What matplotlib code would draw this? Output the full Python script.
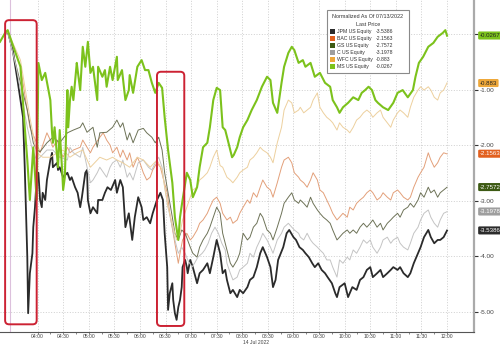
import matplotlib
matplotlib.use("Agg")
import matplotlib.pyplot as plt
from matplotlib.patches import FancyBboxPatch, Rectangle
from matplotlib.transforms import blended_transform_factory, IdentityTransform

plt.rcParams['font.family'] = ['Liberation Sans', 'DejaVu Sans']

# (minutes after 03:00, normalized value)
jpm = [(22, 0.0), (25, 0.05), (31, -0.29), (37, -0.88), (43, -1.50), (45, -2.40), (47, -3.48), (48, -4.02),
       (49, -5.03), (51, -4.31), (54, -3.95), (55, -3.48), (57, -3.12), (59, -2.58), (61, -2.50), (63, -2.99),
       (65, -3.12), (66, -2.86), (69, -2.99), (71, -2.63), (75, -2.27), (77, -2.14), (78, -2.40), (83, -2.32),
       (84, -2.45), (86, -2.40), (90, -2.58), (95, -2.50), (98, -2.63), (100, -2.58), (104, -2.76), (107, -2.86),
       (110, -3.12), (112, -2.94), (116, -2.50), (118, -2.45), (119, -2.99), (122, -3.23), (125, -3.12),
       (130, -3.23), (131, -2.99), (136, -2.99), (139, -2.86), (142, -2.76), (146, -2.81), (151, -2.63),
       (153, -2.86), (157, -2.63), (160, -2.76), (163, -3.48), (167, -3.23), (171, -3.71), (174, -3.30),
       (178, -2.94), (182, -3.12), (184, -3.35), (188, -3.30), (192, -3.41), (195, -3.23), (200, -2.99),
       (204, -2.86), (207, -2.99), (209, -3.59), (212, -4.20), (213, -4.97), (215, -4.67), (218, -4.49),
       (219, -4.79), (221, -5.03), (223, -5.15), (225, -4.92), (227, -4.79), (229, -4.56), (230, -4.20),
       (233, -4.07), (235, -4.20), (236, -4.31), (239, -4.07), (242, -4.20), (247, -4.49), (250, -4.31),
       (254, -4.25), (259, -4.13), (262, -4.31), (266, -4.02), (270, -3.71), (274, -3.95), (277, -4.31),
       (280, -4.25), (282, -4.43), (286, -4.67), (289, -4.61), (294, -4.74), (297, -4.61), (301, -4.67),
       (306, -4.56), (309, -4.43), (313, -4.38), (317, -4.20), (321, -3.95), (324, -3.84), (329, -4.02),
       (333, -4.20), (336, -4.56), (339, -4.43), (342, -4.07), (348, -3.84), (352, -3.59), (355, -3.53),
       (360, -3.66), (363, -3.71), (367, -3.84), (371, -3.89), (374, -3.95), (378, -4.02), (382, -4.13),
       (385, -4.20), (389, -4.13), (393, -4.25), (397, -4.31), (400, -4.38), (405, -4.49), (409, -4.67),
       (411, -4.74), (414, -4.56), (420, -4.49), (424, -4.74), (429, -4.56), (434, -4.61), (438, -4.43),
       (442, -4.38), (446, -4.25), (450, -4.20), (453, -4.38), (458, -4.31), (462, -4.25), (465, -4.38),
       (470, -4.31), (474, -4.25), (477, -4.20), (482, -4.25), (485, -4.20), (489, -4.31), (494, -4.38),
       (497, -4.31), (501, -4.13), (506, -3.95), (509, -3.84), (513, -3.66), (518, -3.53), (521, -3.66),
       (525, -3.77), (529, -3.71), (532, -3.71), (536, -3.66), (540, -3.54)]

bac = [(22, 0.0), (25, 0.05), (40, -0.59), (51, -1.68), (59, -1.96), (63, -2.14), (71, -1.78), (75, -1.91),
       (78, -2.04), (83, -1.91), (86, -2.09), (90, -2.22), (95, -2.04), (98, -2.14), (102, -2.09), (110, -2.04),
       (113, -1.91), (118, -2.04), (122, -2.14), (125, -2.04), (133, -1.86), (137, -1.78), (141, -1.91),
       (145, -2.00), (148, -2.14), (153, -2.04), (157, -2.22), (160, -2.09), (165, -2.27), (168, -2.14),
       (172, -2.40), (177, -2.22), (180, -2.32), (184, -2.50), (188, -2.63), (192, -2.58), (195, -2.45),
       (200, -2.32), (204, -2.40), (207, -2.58), (212, -2.86), (215, -3.23), (219, -3.59), (223, -3.95),
       (225, -4.13), (227, -3.95), (230, -3.71), (235, -3.59), (239, -3.71), (242, -3.66), (247, -3.53),
       (250, -3.41), (254, -3.35), (259, -3.23), (262, -3.12), (266, -2.99), (270, -2.94), (274, -3.05),
       (277, -3.23), (282, -3.35), (286, -3.30), (289, -3.41), (294, -3.35), (297, -3.23), (301, -3.12),
       (306, -2.99), (309, -3.05), (313, -2.86), (317, -2.94), (321, -2.76), (324, -2.63), (329, -2.76),
       (333, -2.81), (336, -2.94), (341, -2.68), (346, -2.40), (349, -2.27), (354, -2.22), (358, -2.32),
       (361, -2.50), (366, -2.58), (368, -2.63), (372, -2.68), (376, -2.76), (380, -2.63), (383, -2.50),
       (388, -2.63), (391, -2.81), (395, -2.86), (399, -2.99), (403, -3.12), (406, -3.23), (411, -3.35),
       (414, -3.30), (418, -3.23), (423, -3.30), (426, -3.12), (430, -3.17), (434, -3.05), (438, -2.99),
       (442, -2.94), (446, -2.86), (450, -2.81), (453, -2.86), (458, -2.99), (462, -2.94), (465, -2.86),
       (470, -2.94), (474, -2.99), (477, -2.86), (482, -2.81), (485, -2.86), (489, -2.94), (494, -2.99),
       (497, -2.94), (501, -2.76), (506, -2.58), (509, -2.50), (513, -2.40), (518, -2.14), (521, -2.27),
       (525, -2.40), (529, -2.32), (532, -2.22), (536, -2.14), (540, -2.16)]

gs = [(22, 0.0), (25, 0.04), (40, -0.88), (48, -1.37), (55, -1.96), (59, -2.09), (63, -2.12), (71, -1.96),
      (78, -1.86), (86, -1.96), (95, -1.78), (102, -1.73), (110, -1.68), (113, -1.60), (118, -1.77),
      (125, -1.68), (130, -2.04), (133, -1.78), (141, -1.77), (148, -1.68), (153, -1.55), (157, -1.68),
      (160, -1.60), (165, -1.91), (168, -1.78), (172, -1.96), (178, -1.73), (184, -1.70), (188, -1.78),
      (194, -1.86), (198, -1.96), (202, -1.86), (206, -2.09), (209, -2.50), (213, -2.86), (218, -3.30),
      (221, -3.59), (225, -3.71), (229, -3.53), (233, -3.59), (239, -3.84), (242, -3.95), (247, -4.02),
      (250, -3.84), (254, -3.71), (259, -3.59), (262, -3.48), (266, -3.30), (270, -3.12), (274, -3.23),
      (277, -3.59), (282, -3.89), (286, -4.13), (289, -4.20), (294, -4.07), (297, -3.95), (301, -3.59),
      (306, -3.71), (309, -3.66), (313, -3.48), (317, -3.41), (321, -3.23), (324, -3.30), (329, -3.53),
      (333, -3.59), (336, -3.71), (341, -3.48), (346, -3.23), (349, -3.05), (354, -2.94), (358, -2.86),
      (361, -2.99), (366, -3.05), (368, -2.99), (372, -3.05), (376, -3.12), (380, -2.94), (383, -3.05),
      (388, -3.17), (391, -3.23), (395, -3.30), (399, -3.35), (403, -3.41), (406, -3.53), (411, -3.71),
      (414, -3.66), (418, -3.59), (423, -3.53), (426, -3.59), (430, -3.53), (434, -3.59), (438, -3.48),
      (442, -3.41), (446, -3.48), (450, -3.41), (453, -3.35), (458, -3.48), (462, -3.41), (465, -3.53),
      (470, -3.41), (474, -3.35), (477, -3.30), (482, -3.23), (485, -3.30), (489, -3.17), (494, -3.12),
      (497, -3.05), (501, -3.12), (506, -2.99), (509, -2.86), (513, -2.94), (518, -2.76), (521, -2.86),
      (525, -2.81), (529, -2.94), (532, -2.86), (536, -2.81), (540, -2.76)]

c = [(22, 0.0), (25, 0.04), (35, -0.59), (48, -1.68), (54, -2.09), (59, -2.27), (63, -2.22), (71, -2.09),
     (78, -2.09), (86, -2.22), (95, -2.27), (98, -2.04), (102, -2.14), (110, -2.22), (113, -2.04),
     (122, -2.68), (125, -2.63), (130, -2.50), (133, -2.40), (141, -2.58), (145, -2.40), (148, -2.32),
     (153, -2.27), (157, -2.40), (160, -2.27), (165, -2.58), (168, -2.50), (172, -2.63), (178, -2.32),
     (184, -2.27), (190, -2.40), (194, -2.45), (198, -2.32), (202, -2.22), (206, -2.40), (209, -2.76),
     (213, -3.12), (218, -3.48), (221, -3.71), (225, -3.95), (229, -3.84), (233, -3.95), (236, -4.07),
     (241, -4.20), (244, -4.13), (248, -4.02), (253, -3.95), (256, -3.89), (260, -3.77), (264, -3.59),
     (268, -3.48), (272, -3.59), (276, -3.77), (280, -3.89), (282, -4.13), (286, -4.31), (289, -4.43),
     (294, -4.38), (297, -4.25), (301, -4.20), (306, -4.13), (309, -3.95), (313, -4.02), (317, -3.84),
     (321, -3.71), (324, -3.59), (329, -3.71), (333, -3.84), (336, -3.95), (341, -3.71), (346, -3.59),
     (349, -3.48), (354, -3.41), (358, -3.48), (361, -3.53), (366, -3.59), (368, -3.66), (372, -3.71),
     (376, -3.59), (380, -3.71), (383, -3.77), (388, -3.84), (391, -3.89), (395, -3.95), (399, -4.07),
     (403, -4.07), (406, -4.20), (411, -4.38), (414, -4.07), (418, -4.13), (423, -4.02), (426, -4.07),
     (430, -3.89), (434, -3.95), (438, -3.84), (442, -3.71), (446, -3.77), (450, -3.71), (453, -3.84),
     (458, -3.95), (462, -3.84), (465, -3.71), (470, -3.66), (474, -3.77), (477, -3.71), (482, -3.66),
     (485, -3.77), (489, -3.84), (494, -3.89), (497, -3.77), (501, -3.59), (506, -3.48), (509, -3.35),
     (513, -3.23), (518, -3.17), (521, -3.30), (525, -3.41), (529, -3.48), (532, -3.35), (536, -3.23),
     (540, -3.20)]

wfc = [(22, 0.0), (25, 0.05), (40, -0.47), (51, -1.50), (59, -2.14), (66, -2.22), (75, -2.22), (83, -2.14),
       (90, -2.09), (98, -2.22), (106, -2.14), (113, -2.09), (122, -2.40), (130, -2.27), (133, -2.22),
       (141, -2.27), (148, -2.22), (153, -2.27), (160, -2.32), (168, -2.40), (177, -2.22), (184, -2.27),
       (192, -2.40), (200, -2.27), (206, -2.45), (209, -2.76), (213, -3.12), (219, -3.48), (223, -3.71),
       (227, -3.59), (230, -3.35), (235, -3.12), (239, -2.94), (242, -2.81), (247, -2.76), (250, -2.63),
       (254, -2.58), (259, -2.50), (262, -2.40), (266, -2.22), (270, -2.09), (274, -2.37), (277, -2.40),
       (282, -2.58), (286, -2.63), (289, -2.68), (294, -2.58), (297, -2.50), (301, -2.45), (306, -2.40),
       (309, -2.27), (313, -2.22), (317, -2.14), (321, -2.04), (324, -2.09), (329, -2.14), (333, -2.22),
       (336, -2.32), (341, -1.96), (346, -1.68), (349, -1.37), (354, -1.19), (358, -1.24), (361, -1.42),
       (366, -1.37), (368, -1.32), (372, -1.42), (376, -1.37), (380, -1.32), (383, -1.19), (388, -1.06),
       (391, -1.32), (395, -1.42), (399, -1.50), (403, -1.55), (406, -1.60), (411, -1.73), (414, -1.60),
       (418, -1.68), (423, -1.73), (426, -1.78), (430, -1.68), (434, -1.55), (438, -1.50), (442, -1.42),
       (446, -1.37), (450, -1.42), (453, -1.50), (458, -1.42), (462, -1.37), (465, -1.50), (470, -1.60),
       (474, -1.68), (477, -1.55), (482, -1.42), (485, -1.37), (489, -1.42), (494, -1.50), (497, -1.32),
       (501, -1.14), (506, -1.01), (509, -0.95), (513, -1.01), (518, -0.95), (521, -1.01), (525, -1.14),
       (529, -1.19), (532, -1.06), (536, -1.01), (540, -0.88)]

ms = [(16, -0.14), (22, 0.02), (25, 0.07), (31, -0.20), (40, -0.59), (45, -1.68), (48, -2.27), (51, -2.99),
      (54, -2.27), (55, -2.04), (57, -2.50), (59, -2.99), (61, -0.52), (65, -0.83), (69, -0.70), (75, -1.19),
      (77, -1.78), (78, -1.96), (80, -1.68), (84, -2.40), (86, -1.73), (89, -2.50), (90, -2.81), (92, -2.58),
      (95, -1.01), (96, -1.68), (98, -1.19), (100, -0.95), (102, -1.19), (106, -0.52), (107, -0.65),
      (110, -1.01), (112, -0.47), (113, -0.23), (116, -0.59), (119, -0.14), (122, -0.70), (125, -0.59),
      (130, -1.19), (131, -0.59), (136, -0.77), (139, -0.65), (141, -0.95), (145, -0.59), (148, -0.83),
      (153, -0.41), (154, -0.83), (159, -0.65), (163, -1.19), (167, -1.01), (168, -0.74), (172, -1.06),
      (177, -0.59), (182, -0.47), (186, -0.65), (190, -0.65), (194, -0.88), (198, -1.06), (202, -0.88),
      (206, -0.97), (209, -1.50), (213, -2.09), (218, -2.68), (221, -3.30), (225, -3.71), (227, -3.30),
      (230, -2.99), (235, -2.50), (239, -2.63), (242, -2.94), (247, -2.76), (250, -2.40), (254, -2.04),
      (259, -1.96), (262, -1.68), (266, -1.19), (270, -0.97), (274, -1.01), (277, -1.68), (280, -1.73),
      (283, -1.91), (288, -2.22), (290, -2.18), (294, -2.04), (297, -1.86), (301, -1.68), (306, -1.55),
      (311, -1.37), (317, -1.19), (323, -0.95), (329, -0.77), (333, -0.83), (336, -1.24), (341, -1.42),
      (346, -0.88), (349, -0.59), (354, -0.34), (358, -0.23), (361, -0.29), (366, -0.52), (371, -0.47),
      (374, -0.59), (380, -0.52), (385, -0.77), (391, -0.70), (397, -0.88), (403, -0.95), (406, -1.19),
      (411, -1.32), (414, -1.42), (418, -1.32), (424, -1.24), (430, -1.14), (436, -1.19), (440, -1.06),
      (444, -1.01), (448, -0.95), (452, -1.01), (456, -1.19), (459, -1.24), (465, -1.32), (471, -1.37),
      (477, -1.24), (482, -1.06), (488, -1.01), (494, -1.14), (500, -1.01), (503, -0.77), (507, -0.52),
      (512, -0.41), (518, -0.23), (524, -0.16), (529, -0.05), (535, 0.02), (538, 0.07), (540, -0.03)]

names = ["JPM US Equity", "BAC US Equity", "GS US Equity", "C US Equity", "WFC US Equity", "MS US Equity"]
last_price = ["-3.5386", "-2.1563", "-2.7572", "-3.1978", "-0.883", "-0.0267"]
last_value = [-3.5386, -2.1563, -2.7572, -3.1978, -0.883, -0.0267]
tick_pos = list(range(60, 541, 30))
tick_labels = ["04:00", "04:30", "05:00", "05:30", "06:00", "06:30", "07:00", "07:30", "08:00",
               "08:30", "09:00", "09:30", "10:00", "10:30", "11:00", "11:30", "12:00"]
boxes = [((22, 59), (0.25, -5.23)), ((200, 232), (-0.68, -5.26))]

series = [jpm, bac, gs, c, wfc, ms]
line_colors = ["#2b2b2b", "#e3a07a", "#6e7358", "#c4c4c4", "#edd09e", "#7cc21c"]
line_widths = [1.3, 0.7, 0.7, 0.7, 0.7, 1.5]
key_colors = ["#2b2b2b", "#e2601f", "#3d5a14", "#9e9e9e", "#eea83a", "#7cc21c"]
tag_text = ["white", "white", "white", "white", "#222222", "#222222"]
draw_order = [3, 4, 1, 2, 0, 5]

fig = plt.figure(figsize=(5, 3.47), dpi=100)
ax = fig.add_axes([0, 0.043, 0.948, 0.957])

for i in draw_order:
    t, v = zip(*series[i])
    ax.plot(t, v, color=line_colors[i], lw=line_widths[i], zorder=3 + i * 0.1)

ax.set_xlim(16, 571.6)
ax.set_ylim(-5.37, 0.613)

ax.set_xticks(tick_pos)
ax.set_xticklabels(tick_labels, fontsize=3.6, color="#444444")
ax.set_xticks([p + 15 for p in tick_pos[:-1]], minor=True)
ax.tick_params(axis="x", which="both", length=1.2, width=0.5, color="#555555", pad=0.5)

ax.yaxis.tick_right()
ax.set_yticks([0, -1, -2, -3, -4, -5])
ax.set_yticklabels(["", "-1.00", "-2.00", "-3.00", "-4.00", "-5.00"], fontsize=4.6, color="#444444")
ax.tick_params(axis="y", length=3, width=0.8, color="#333333", pad=1)

ax.grid(True, which="major", color="#c8c8c8", linestyle=(0, (1.2, 2)), linewidth=0.6)
ax.axvline(28, color="#dcc0dc", lw=0.8, zorder=1)

for s in ["left", "top"]:
    ax.spines[s].set_visible(False)
ax.spines["right"].set_color("#aaaaaa")
ax.spines["right"].set_linewidth(1.6)
ax.spines["bottom"].set_color("#555555")
ax.spines["bottom"].set_linewidth(0.8)

# last price tags on the right axis
tr = blended_transform_factory(ax.transAxes, ax.transData)
for i in range(6):
    ax.text(1.012, last_value[i], last_price[i], transform=tr, fontsize=4.4, color=tag_text[i],
            va="center", ha="left", clip_on=False, zorder=10,
            bbox=dict(boxstyle="round,pad=0.25,rounding_size=0.2", fc=key_colors[i], ec="none"))

# red highlight boxes
fig.canvas.draw()
for (t0, t1), (y0, y1) in boxes:
    x0p, y0p = ax.transData.transform((t0, y0))
    x1p, y1p = ax.transData.transform((t1, y1))
    fig.patches.append(FancyBboxPatch((x0p, y1p), x1p - x0p, y0p - y1p,
                                      boxstyle="round,pad=0,rounding_size=4",
                                      fc="none", ec="#cc2233", lw=1.4,
                                      transform=IdentityTransform(), figure=fig, zorder=20))

# legend box
lx0, ly_top, lx1, ly_bot = 327, 10, 409, 73
fig.patches.append(Rectangle((lx0 / 500, 1 - ly_bot / 347), (lx1 - lx0) / 500, (ly_bot - ly_top) / 347,
                             transform=fig.transFigure, fc="white", ec="#8a8a8a", lw=0.8,
                             figure=fig, zorder=15))
cx = (lx0 + lx1) / 2 / 500
fig.text(cx, 1 - 17 / 347, "Normalized As Of 07/13/2022", fontsize=3.9, ha="center", va="center",
         color="#333333", zorder=16)
fig.text(cx, 1 - 24 / 347, "Last Price", fontsize=3.9, ha="center", va="center", color="#333333", zorder=16)
for i in range(6):
    yy = 1 - (31.5 + 7 * i) / 347
    fig.patches.append(Rectangle((330 / 500, yy - 2.5 / 347), 5 / 500, 5 / 347, transform=fig.transFigure,
                                 fc=key_colors[i], ec="none", figure=fig, zorder=16))
    fig.text(337 / 500, yy, names[i], fontsize=3.7, ha="left", va="center", color="#333333", zorder=16)
    fig.text(376 / 500, yy, last_price[i], fontsize=3.7, ha="left", va="center", color="#333333", zorder=16)

fig.text(243 / 500, 1 - 342.5 / 347, "14 Jul 2022", fontsize=3.6, ha="left", va="center", color="#444444")

fig.savefig("out.png", dpi=100)
